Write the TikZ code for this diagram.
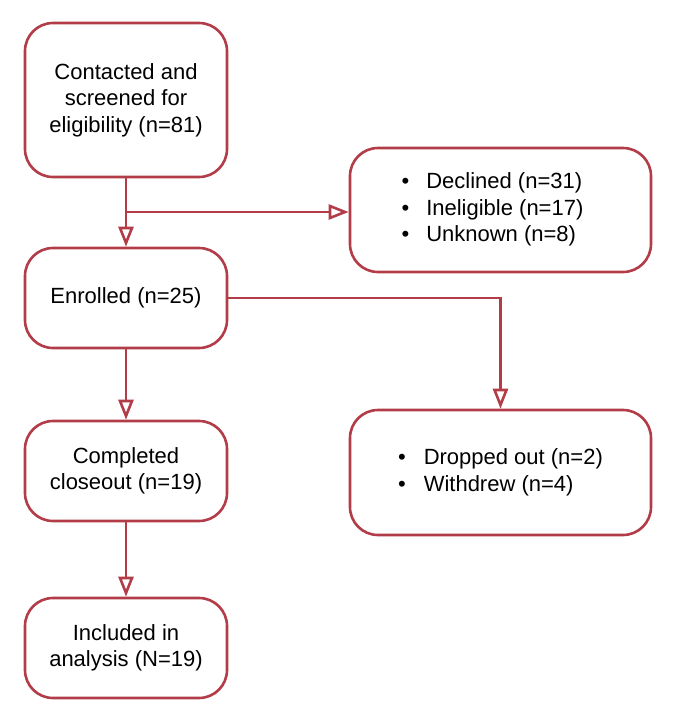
\documentclass[tikz,border=0pt]{standalone}
\usepackage{fontspec}
\setmainfont{Liberation Sans}
\usetikzlibrary{arrows.meta}
\definecolor{flowred}{RGB}{178,60,72}
\begin{document}
\begin{tikzpicture}[x=1pt,y=1pt,
  box/.style={draw=flowred, line width=2.6pt, rounded corners=28pt, fill=white,
    minimum width=202pt, inner sep=0pt, align=center, font=\fontsize{22}{26.5}\selectfont},
  sidebox/.style={box, minimum width=301pt},
  flow/.style={draw=flowred, line width=2.6pt, -{Triangle[open, length=20pt, width=15pt, line width=2.6pt]}}
]
\useasboundingbox (0,0) rectangle (674,-716);
\node[box, minimum height=154pt] (contact) at (126,-100) {Contacted and\\screened for\\eligibility (n=81)};
\node[box, minimum height=100pt] (enrol) at (126,-298) {Enrolled (n=25)};
\node[box, minimum height=100pt] (closeout) at (126,-471) {Completed\\closeout (n=19)};
\node[box, minimum height=100pt] (analysis) at (126,-648) {Included in\\analysis (N=19)};
\node[sidebox, minimum height=124pt] (excl) at (500.5,-210) {\begin{tabular}{@{}l@{\hspace{17pt}}l@{}}•&Declined (n=31)\\•&Ineligible (n=17)\\•&Unknown (n=8)\end{tabular}\hspace*{16pt}};
\node[sidebox, minimum height=125pt] (drop) at (500.5,-472.5) {\begin{tabular}{@{}l@{\hspace{18pt}}l@{}}•&Dropped out (n=2)\\•&Withdrew (n=4)\end{tabular}};
\coordinate (split) at (126,-212);
\draw[flow] (contact.south) -- (enrol.north);
\draw[flow] (split) -- (split -| excl.west);
\draw[flow] (enrol.east) -| (drop.north);
\draw[flow] (enrol.south) -- (closeout.north);
\draw[flow] (closeout.south) -- (analysis.north);
\end{tikzpicture}
\end{document}
